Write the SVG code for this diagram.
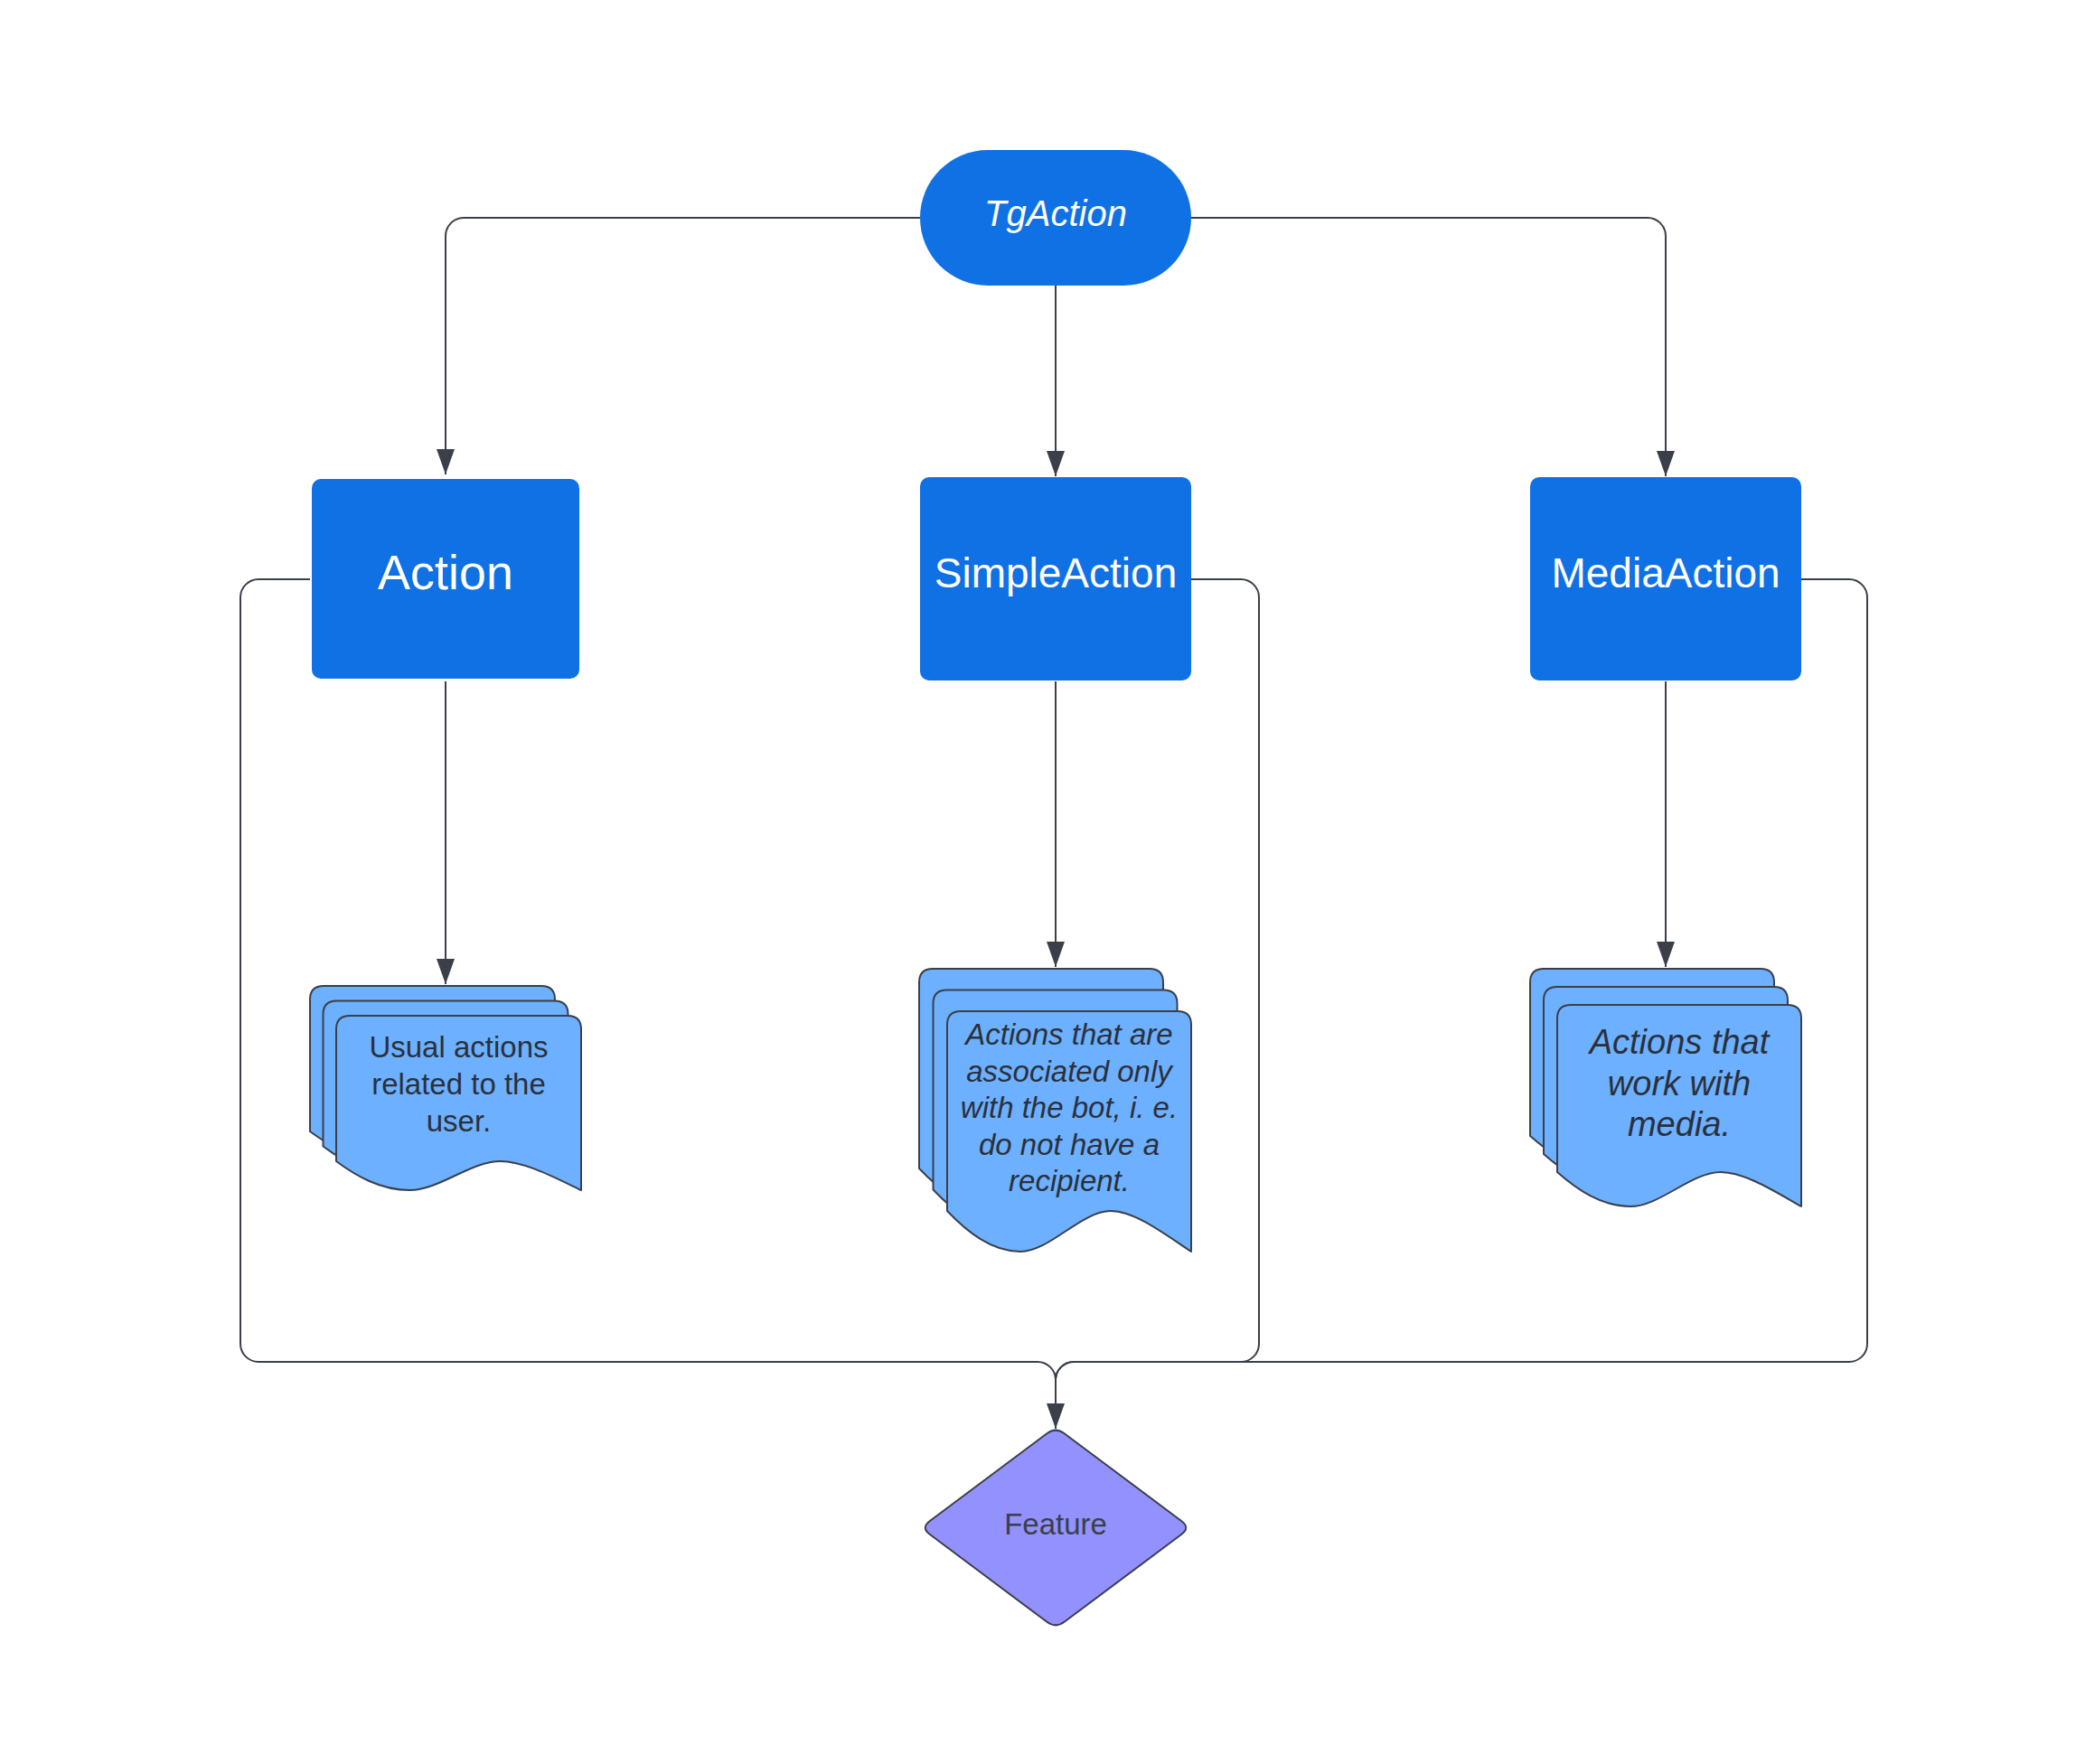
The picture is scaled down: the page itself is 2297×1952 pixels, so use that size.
<svg xmlns="http://www.w3.org/2000/svg" xmlns:xlink="http://www.w3.org/1999/xlink" width="2297" height="1952" viewBox="0 0 2297 1952">
<style>
.box{fill:#1071e5}
.boxtxt{fill:#ffffff;font-family:"Liberation Sans",Arial,sans-serif;text-anchor:middle}
.doc{fill:#6cb0ff;stroke:#3a3f4a;stroke-width:2;stroke-linejoin:round}
.doctxt{fill:#2b303b;font-family:"Liberation Sans",Arial,sans-serif;text-anchor:middle;font-size:33px}
.conn{fill:none;stroke:#3a3f4a;stroke-width:2}
</style>
<defs>
<marker id="arr" viewBox="0 0 28 20" refX="28" refY="10" markerWidth="28" markerHeight="20" markerUnits="userSpaceOnUse" orient="auto">
<path d="M0,0 L28,10 L0,20 Z" fill="#3a3f4a"/>
</marker>
<path id="docA" d="M0,161 V15 Q0,0 15,0 H256 Q271,0 271,15 V193 C243.9,180.2 208.7,161 181.6,161 C149,161 113.8,193 81.3,193 C48.8,193 21.7,177 0,161 Z"/>
<path id="docS" d="M0,221 V15 Q0,0 15,0 H255 Q270,0 270,15 V266 C243,248 207.9,221 180.9,221 C148.5,221 113.4,266 81,266 C48.6,266 21.6,243.5 0,221 Z"/>
<path id="docM" d="M0,185 V15 Q0,0 15,0 H255 Q270,0 270,15 V223 C243,207.8 207.9,185 180.9,185 C148.5,185 113.4,223 81,223 C48.6,223 21.6,204 0,185 Z"/>
</defs>
<rect width="2297" height="1952" fill="#ffffff"/>

<g id="connectors">
<path class="conn" d="M1018,241 H513 A20,20 0 0 0 493,261 V525" marker-end="url(#arr)"/>
<path class="conn" d="M1168,316 V527" marker-end="url(#arr)"/>
<path class="conn" d="M1318,241 H1823 A20,20 0 0 1 1843,261 V527" marker-end="url(#arr)"/>
<path class="conn" d="M493,754 V1089" marker-end="url(#arr)"/>
<path class="conn" d="M1168,754 V1070" marker-end="url(#arr)"/>
<path class="conn" d="M1843,754 V1070" marker-end="url(#arr)"/>
<path class="conn" d="M343,641 H286 A20,20 0 0 0 266,661 V1487 A20,20 0 0 0 286,1507 H1148 A20,20 0 0 1 1168,1527 V1581" marker-end="url(#arr)"/>
<path class="conn" d="M1318,641 H1373 A20,20 0 0 1 1393,661 V1487 A20,20 0 0 1 1373,1507 H1188 A20,20 0 0 0 1168,1527 V1581"/>
<path class="conn" d="M1993,641 H2046 A20,20 0 0 1 2066,661 V1487 A20,20 0 0 1 2046,1507 H1188 A20,20 0 0 0 1168,1527 V1581"/>
</g>

<g id="tgaction">
<rect class="box" x="1018" y="166" width="300" height="150" rx="75" ry="75"/>
<text class="boxtxt" x="1168" y="250" font-size="40" font-style="italic">TgAction</text>
</g>

<g id="action">
<rect class="box" x="345" y="530" width="296" height="221" rx="10" ry="10"/>
<text class="boxtxt" x="493" y="652" font-size="54">Action</text>
</g>

<g id="simpleaction">
<rect class="box" x="1018" y="528" width="300" height="225" rx="10" ry="10"/>
<text class="boxtxt" x="1168" y="650" font-size="46">SimpleAction</text>
</g>

<g id="mediaaction">
<rect class="box" x="1693" y="528" width="300" height="225" rx="10" ry="10"/>
<text class="boxtxt" x="1843" y="650" font-size="46">MediaAction</text>
</g>

<g id="doc-action">
<use xlink:href="#docA" href="#docA" class="doc" transform="translate(343,1091)"/>
<use xlink:href="#docA" href="#docA" class="doc" transform="translate(357.5,1107.5)"/>
<use xlink:href="#docA" href="#docA" class="doc" transform="translate(372,1124)"/>
<text class="doctxt"><tspan x="507.5" y="1170">Usual actions</tspan><tspan x="507.5" y="1211">related to the</tspan><tspan x="507.5" y="1252">user.</tspan></text>
</g>

<g id="doc-simpleaction">
<use xlink:href="#docS" href="#docS" class="doc" transform="translate(1017,1072)"/>
<use xlink:href="#docS" href="#docS" class="doc" transform="translate(1032.5,1095.5)"/>
<use xlink:href="#docS" href="#docS" class="doc" transform="translate(1048,1119)"/>
<text class="doctxt" font-style="italic"><tspan x="1183" y="1156">Actions that are</tspan><tspan x="1183" y="1196.5">associated only</tspan><tspan x="1183" y="1237">with the bot, i. e.</tspan><tspan x="1183" y="1277.5">do not have a</tspan><tspan x="1183" y="1318">recipient.</tspan></text>
</g>

<g id="doc-mediaaction">
<use xlink:href="#docM" href="#docM" class="doc" transform="translate(1693,1072)"/>
<use xlink:href="#docM" href="#docM" class="doc" transform="translate(1708,1092)"/>
<use xlink:href="#docM" href="#docM" class="doc" transform="translate(1723,1112)"/>
<text class="doctxt" font-style="italic" style="font-size:38px"><tspan x="1858" y="1166">Actions that</tspan><tspan x="1858" y="1211.5">work with</tspan><tspan x="1858" y="1257">media.</tspan></text>
</g>

<g id="feature">
<path d="M1177.6,1586.2 L1307.4,1683.3 Q1317,1690.5 1307.4,1697.7 L1177.6,1794.8 Q1168,1802 1158.4,1794.8 L1028.6,1697.7 Q1019,1690.5 1028.6,1683.3 L1158.4,1586.2 Q1168,1579 1177.6,1586.2 Z" fill="#9391fd" stroke="#3a3f4a" stroke-width="2"/>
<text x="1168" y="1698" font-family="'Liberation Sans',Arial,sans-serif" font-size="33" fill="#3a3f4a" text-anchor="middle">Feature</text>
</g>
</svg>
